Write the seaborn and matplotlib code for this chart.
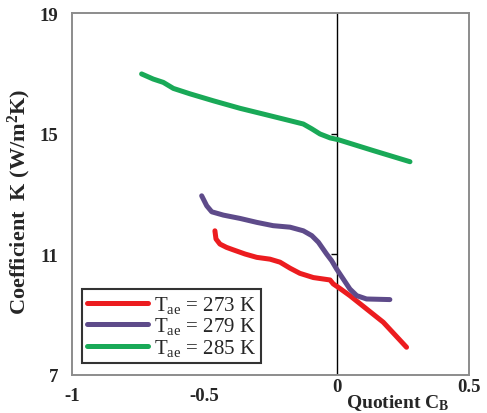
import numpy as np
import pandas as pd
import matplotlib
matplotlib.use("Agg")
import matplotlib.pyplot as plt
import matplotlib.transforms as mtransforms
import seaborn as sns

# ---- data ----
x_273 = [-0.460, -0.456, -0.441, -0.416, -0.391, -0.346, -0.302, -0.252, -0.214, -0.176,
         -0.139, -0.088, -0.025, -0.013, 0.012, 0.050, 0.113, 0.176, 0.264]
k_273 = [11.78, 11.51, 11.34, 11.23, 11.15, 11.01, 10.90, 10.84, 10.74, 10.54,
         10.37, 10.23, 10.15, 10.02, 9.87, 9.63, 9.19, 8.75, 7.92]

x_279 = [-0.510, -0.491, -0.472, -0.428, -0.365, -0.302, -0.240, -0.176, -0.126, -0.094,
         -0.069, -0.038, -0.019, 0.000, 0.025, 0.050, 0.076, 0.113, 0.201]
k_279 = [12.94, 12.61, 12.41, 12.30, 12.19, 12.06, 11.95, 11.90, 11.78, 11.62,
         11.40, 11.01, 10.79, 10.51, 10.18, 9.85, 9.63, 9.52, 9.50]

x_285 = [-0.737, -0.693, -0.655, -0.617, -0.554, -0.466, -0.365, -0.277, -0.176, -0.126,
         -0.094, -0.063, -0.025, 0.006, 0.138, 0.277]
k_285 = [16.98, 16.81, 16.70, 16.50, 16.32, 16.09, 15.84, 15.65, 15.43, 15.32,
         15.16, 14.99, 14.86, 14.80, 14.44, 14.07]

series_labels = [r"T$_{\mathrm{ae}}$ = 273 K", r"T$_{\mathrm{ae}}$ = 279 K", r"T$_{\mathrm{ae}}$ = 285 K"]
colors = ["#ec1c1f", "#5e4b8a", "#19a957"]

x_ticks = [-1, -0.5, 0, 0.5]
x_tick_labels = ["-1", "-0.5", "0", "0.5"]
y_ticks = [7, 11, 15, 19]
y_tick_labels = ["7", "11", "15", "19"]

# ---- build long table ----
frames = []
for xs, ks, lab in zip([x_273, x_279, x_285], [k_273, k_279, k_285], series_labels):
    frames.append(pd.DataFrame({"CB": xs, "K": ks, "series": lab}))
df = pd.concat(frames, ignore_index=True)

sns.set_style("white")
plt.rcParams["font.family"] = ["Liberation Serif", "DejaVu Serif"]
plt.rcParams["mathtext.fontset"] = "custom"
plt.rcParams["mathtext.rm"] = "Liberation Serif"
plt.rcParams["mathtext.it"] = "Liberation Serif:italic"
plt.rcParams["mathtext.bf"] = "Liberation Serif:bold"

fig = plt.figure(figsize=(4.87, 4.14), dpi=100)
ax = fig.add_axes([72 / 487, 1 - 376 / 414, 397 / 487, 362 / 414])

sns.lineplot(data=df, x="CB", y="K", hue="series", palette=colors,
             hue_order=series_labels, sort=False, estimator=None,
             linewidth=3.6, ax=ax, legend=True)
for ln in ax.get_lines():
    ln.set_solid_capstyle("round")
    ln.set_solid_joinstyle("round")

ax.set_xlim(-1, 0.5)
ax.set_ylim(7, 19)

# vertical axis line at x = 0 with small ticks
ax.axvline(0, color="black", lw=1.0, zorder=1)
ax.hlines([11, 15], -0.022, 0, color="black", lw=1.0, zorder=1)

for sp in ax.spines.values():
    sp.set_color("#8c8c8c")
    sp.set_linewidth(1.4)

ax.set_xticks(x_ticks)
ax.set_xticklabels(x_tick_labels, fontweight="bold", fontsize=13.5)
ax.set_yticks(y_ticks)
ax.set_yticklabels(y_tick_labels, fontweight="bold", fontsize=13.5)
ax.tick_params(axis="both", direction="out", length=4, width=1.2, color="#333333")
ax.tick_params(axis="x", pad=5)
ax.tick_params(axis="y", pad=6)

# raise the "0" and "0.5" labels as in the reference
for lbl in ax.get_xticklabels()[2:]:
    lbl.set_transform(lbl.get_transform() +
                      mtransforms.ScaledTranslation(0, 0.09, fig.dpi_scale_trans))

ax.set_xlabel("")
ax.set_ylabel(r"Coefficient  K (W/m$^{\mathbf{2}}$K)", fontweight="bold", fontsize=16)
ax.yaxis.set_label_coords(-0.098, 0.48)
ax.text(0.82, -0.075, r"Quotient C$_{\mathbf{B}}$", transform=ax.transAxes,
        ha="center", va="center", fontweight="bold", fontsize=14)

leg = ax.legend(loc="lower left", bbox_to_anchor=(0.025, 0.033), borderaxespad=0,
                fontsize=15, frameon=True, fancybox=False, edgecolor="black",
                handlelength=2.9, handletextpad=0.3, labelspacing=0.02,
                borderpad=0.25, title=None)
leg.get_frame().set_linewidth(1.5)
for h in leg.get_lines():
    h.set_linewidth(3.6)
    h.set_solid_capstyle("round")

fig.savefig("out.png", dpi=100)
